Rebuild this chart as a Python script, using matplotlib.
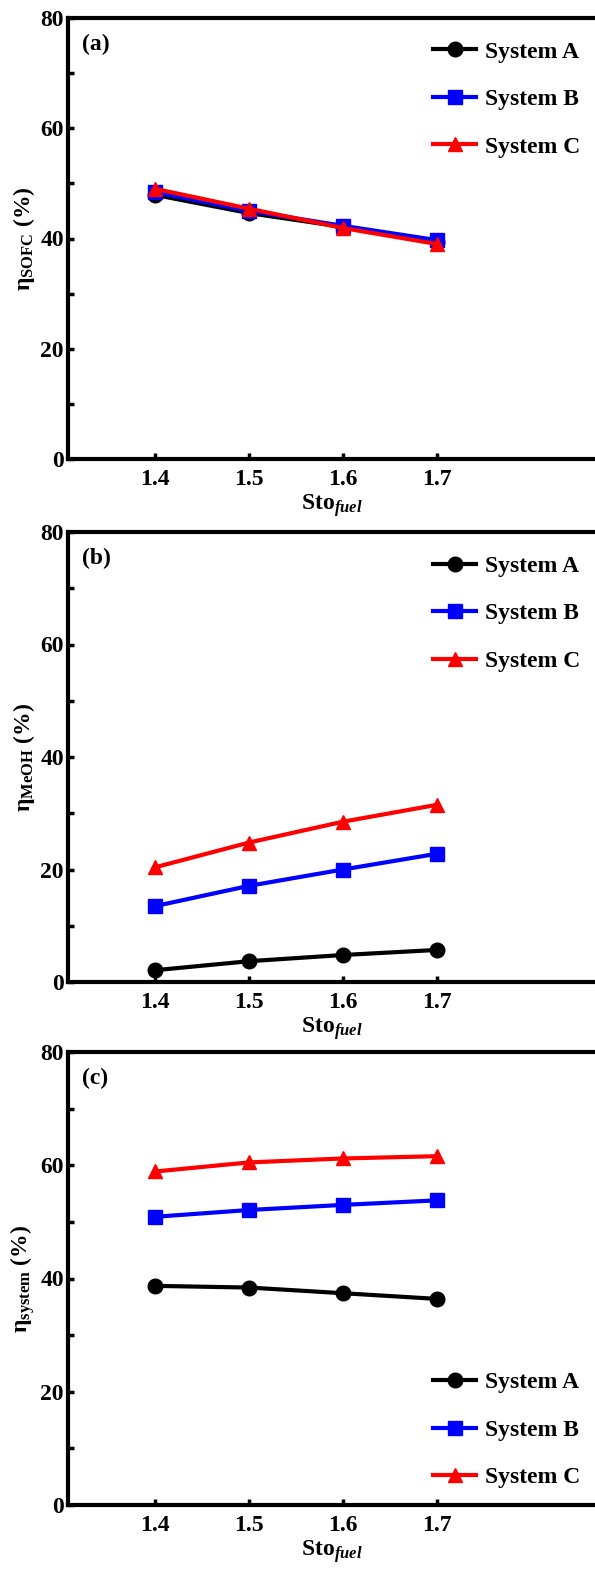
import numpy as np
import matplotlib
matplotlib.use('Agg')
import matplotlib.pyplot as plt
from matplotlib.ticker import MultipleLocator

plt.rcParams['font.family'] = ['Liberation Serif', 'DejaVu Serif']
plt.rcParams['font.weight'] = 'bold'
plt.rcParams['mathtext.fontset'] = 'custom'
plt.rcParams['mathtext.rm'] = 'Liberation Serif:bold'
plt.rcParams['mathtext.it'] = 'Liberation Serif:bold:italic'
plt.rcParams['mathtext.bf'] = 'Liberation Serif:bold'

sto = [1.4, 1.5, 1.6, 1.7]

# (a) SOFC efficiency
sofc_a = [47.9, 44.6, 42.1, 39.3]
sofc_b = [48.4, 45.0, 42.3, 39.7]
sofc_c = [49.0, 45.4, 41.9, 39.0]

# (b) methanol efficiency
meoh_a = [2.1, 3.7, 4.8, 5.7]
meoh_b = [13.5, 17.1, 20.0, 22.8]
meoh_c = [20.4, 24.8, 28.5, 31.5]

# (c) system efficiency
sys_a = [38.7, 38.4, 37.4, 36.4]
sys_b = [50.9, 52.1, 53.0, 53.8]
sys_c = [58.9, 60.5, 61.2, 61.6]

names = ['System A', 'System B', 'System C']
panels = [
    ('(a)', r'η$_{\mathrm{SOFC}}$ (%)', [sofc_a, sofc_b, sofc_c], 'upper right'),
    ('(b)', r'η$_{\mathrm{MeOH}}$ (%)', [meoh_a, meoh_b, meoh_c], 'upper right'),
    ('(c)', r'η$_{\mathrm{system}}$ (%)', [sys_a, sys_b, sys_c], 'lower right'),
]

colors = ['black', 'blue', 'red']
markers = ['o', 's', '^']

fig = plt.figure(figsize=(5.95, 15.69), dpi=100)
W, H = 595.0, 1569.0
boxes = [(18, 459), (532, 982), (1052, 1505)]
left = 68 / W
fs = 17

for (tag, ylab, series, loc), (top, bot) in zip(panels, boxes):
    ax = fig.add_axes([left, 1 - bot / H, 596.5 / W - left, (bot - top) / H])
    for y, c, m, n in zip(series, colors, markers, names):
        ax.plot(sto, y, color=c, marker=m, markersize=10.5, linewidth=3, label=n)
    ax.set_xlim(1.307, 1.87)
    ax.set_ylim(0, 80)
    ax.set_xticks(sto)
    ax.yaxis.set_major_locator(MultipleLocator(20))
    ax.yaxis.set_minor_locator(MultipleLocator(10))
    ax.tick_params(direction='in', length=4, width=2.5, labelsize=fs)
    ax.tick_params(axis='x', pad=7)
    ax.tick_params(axis='y', pad=3)
    ax.tick_params(which='minor', direction='in', length=4, width=2.5)
    for s in ax.spines.values():
        s.set_linewidth(3)
    ax.set_xlabel(r'Sto$_{\mathit{fuel}}$', fontsize=fs, fontweight='bold', labelpad=2)
    ax.set_ylabel(ylab, fontsize=fs, fontweight='bold', labelpad=2)
    ax.text(0.027, 0.965, tag, transform=ax.transAxes, fontsize=fs,
            fontweight='bold', va='top', ha='left')
    anchor = (1.0, 0.985) if loc == 'upper right' else (1.0, 0.0)
    ax.legend(loc=loc, bbox_to_anchor=anchor, frameon=False, fontsize=fs,
              handlelength=1.85, handletextpad=0.35, labelspacing=1.1,
              borderaxespad=0.3)

plt.savefig('out.png', dpi=100)
